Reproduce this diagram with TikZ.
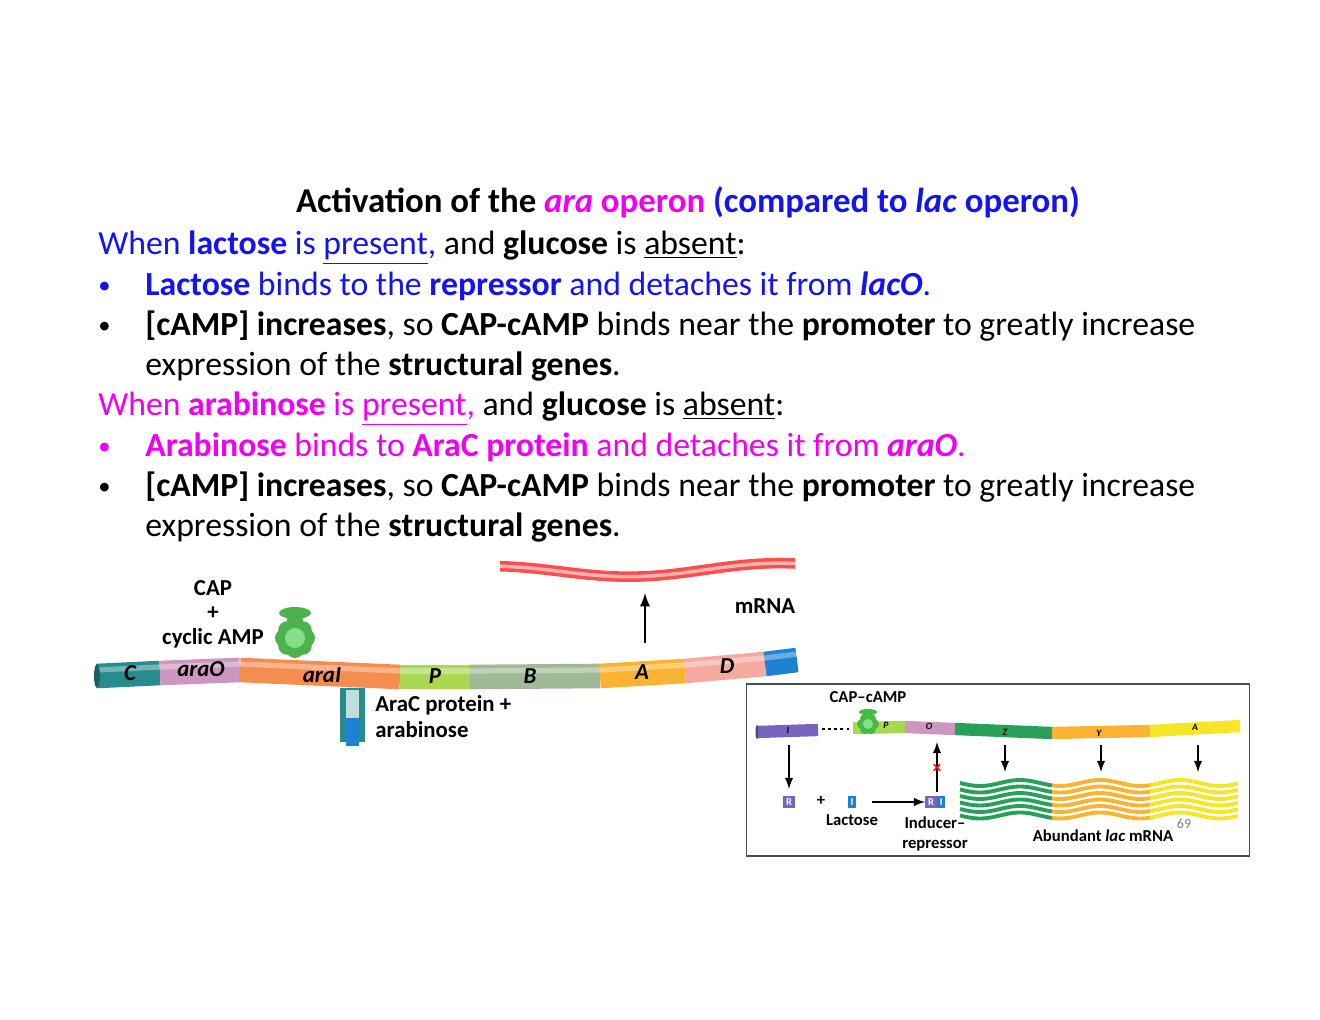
\documentclass[tikz,border=0pt]{standalone}
\usepackage{fontspec}
\setmainfont{Carlito}
\definecolor{txtblue}{RGB}{20,20,240}
\definecolor{txtmag}{RGB}{240,0,240}
\definecolor{cteal}{RGB}{40,140,140}
\definecolor{caraO}{RGB}{205,150,190}
\definecolor{caraI}{RGB}{245,140,80}
\definecolor{cP}{RGB}{170,215,80}
\definecolor{cB}{RGB}{160,185,150}
\definecolor{cA}{RGB}{250,180,50}
\definecolor{cD}{RGB}{245,170,160}
\definecolor{cblue}{RGB}{30,130,210}
\definecolor{cpurple}{RGB}{120,100,190}
\definecolor{cgreen}{RGB}{40,160,90}
\definecolor{cyel}{RGB}{245,230,40}
\tikzset{
  line/.style={anchor=base west, font=\fontsize{19.2}{22}\selectfont, inner sep=0pt},
  dot/.style={anchor=base west, font=\fontsize{14}{22}\selectfont, inner sep=0pt},
  seg/.style={line width=14pt},
  gene/.style={font=\bfseries\itshape\fontsize{13}{15}\selectfont, inner sep=0pt},
  lbl/.style={font=\bfseries\fontsize{13}{15}\selectfont, align=left, inner sep=0pt},
  slbl/.style={font=\bfseries\fontsize{9.5}{11}\selectfont, align=center, inner sep=0pt},
  tgene/.style={font=\bfseries\itshape\fontsize{5.5}{6}\selectfont, inner sep=0pt},
  arr/.style={-latex, line width=1.6pt},
  sarr/.style={-latex, line width=1.2pt},
}
\begin{document}
\begin{tikzpicture}[x=0.02cm, y=-0.02cm]
\useasboundingbox (0,0) rectangle (1320,1020);
% title and text
\node[anchor=base, inner sep=0pt, font=\bfseries\fontsize{19.8}{22}\selectfont] (title) at (688,213)
  {Activation of the {\color{txtmag}\textit{ara} operon} {\color{txtblue}(compared to \textit{lac} operon)}};
\node[line] (t1) at (98,255) {{\color{txtblue}When \textbf{lactose} is \underline{present},} and \textbf{glucose} is \underline{absent}:};
\node[dot] (d1) at (98,294) {\color{txtblue}•};
\node[line] (t2) at (145,296) {\color{txtblue}\textbf{Lactose} binds to the \textbf{repressor} and detaches it from \textbf{\textit{lacO}}.};
\node[dot] (d2) at (98,334) {•};
\node[line] (t3) at (145,336) {\textbf{[cAMP] increases}, so \textbf{CAP-cAMP} binds near the \textbf{promoter} to greatly increase};
\node[line] (t4) at (145,376) {expression of the \textbf{structural genes}.};
\node[line] (t5) at (98,416) {{\color{txtmag}When \textbf{arabinose} is \underline{present},} and \textbf{glucose} is \underline{absent}:};
\node[dot] (d3) at (98,455) {\color{txtmag}•};
\node[line] (t6) at (145,457) {\color{txtmag}\textbf{Arabinose} binds to \textbf{AraC protein} and detaches it from \textbf{\textit{araO}}.};
\node[dot] (d4) at (98,495) {•};
\node[line] (t7) at (145,497) {\textbf{[cAMP] increases}, so \textbf{CAP-cAMP} binds near the \textbf{promoter} to greatly increase};
\node[line] (t8) at (145,537) {expression of the \textbf{structural genes}.};
% ara operon
\foreach \xa/\ya/\xb/\yb/\c in {97/676/160/673/cteal, 160/673/240/670/caraO, 240/670/400/677/caraI,
  400/677/470/677/cP, 470/677/600/676/cB, 600/676/685/671/cA, 685/671/765/664/cD, 765/664/797/660/cblue}
  \draw[seg, \c] (\xa,\ya) -- (\xb,\yb);
\foreach \xa/\ya/\xb/\yb in {97/676/160/673, 160/673/240/670, 240/670/400/677, 400/677/470/677,
  470/677/600/676, 600/676/685/671, 685/671/765/664, 765/664/797/660}
  \draw[line width=3pt, white, opacity=0.35] (\xa,\ya-6) -- (\xb,\yb-6);
\fill[cteal!70!black] (97,676) ellipse (3 and 12);
\node[gene] (gC) at (130,673) {C};
\node[gene] (gO) at (201,669) {araO};
\node[gene] (gI) at (322,675) {araI};
\node[gene] (gP) at (435,676) {P};
\node[gene] (gB) at (530,676) {B};
\node[gene] (gA) at (642,672) {A};
\node[gene] (gD) at (727,666) {D};
% CAP
\node[lbl, align=center] (cap) at (213,614) {CAP\\[-1pt]+\\[-1pt]cyclic AMP};
\foreach \a in {0,45,...,315}
  \fill[green!40!gray] (295,638) ++(\a:11) circle (9);
\fill[green!55!gray!60] (295,638) circle (10);
\fill[green!40!gray] (295,613) ellipse (16 and 6);
\fill[green!40!gray] (295,620) ellipse (8 and 6);
% AraC
\fill[cteal] (340,688) rectangle (365,742);
\fill[cteal!30] (346,690) rectangle (359,735);
\fill[cblue] (346,718) rectangle (359,746);
\node[lbl, anchor=north west] (arac) at (375,695) {AraC protein +\\arabinose};
% mRNA
\draw[red!70, line width=6pt] plot[domain=500:795, samples=60] (\x, {572-3*(\x-500)/295 + 6*sin((\x-560)*1.25)});
\draw[white!70!red, line width=2pt] plot[domain=500:795, samples=60] (\x, {572-3*(\x-500)/295 + 6*sin((\x-560)*1.25)});
\node[lbl] (mrna) at (765,606) {mRNA};
\coordinate (aS) at (645,643);
\coordinate (aE) at (645,593);
\draw[arr] (aS) -- (aE);
% lac inset
\node[draw=black!70, line width=0.6pt, minimum width=10.08cm, minimum height=3.44cm, inner sep=0pt] (box) at (998,770) {};
\node[slbl] (capc) at (868,697) {CAP–cAMP};
\draw[line width=7pt, cpurple] (757,732) -- (818,730);
\fill[cpurple!70!black] (757,732) ellipse (1.5 and 7);
\draw[line width=1.5pt, dotted] (822,729) -- (850,729);
\foreach \xa/\ya/\xb/\yb/\c in {853/728/905/727/cP, 905/727/955/729/caraO, 955/729/1052/733/cgreen,
  1052/733/1150/731/cA, 1150/731/1240/726/cyel}
  \draw[line width=7pt, \c] (\xa,\ya) -- (\xb,\yb);
\foreach \a in {0,60,...,300}
  \fill[green!45!gray] (868,724) ++(\a:6) circle (5);
\fill[green!60!gray!60] (868,724) circle (5);
\fill[green!45!gray] (868,712) ellipse (9 and 3);
\node[tgene] (lI) at (788,730) {I};
\node[tgene] (lP) at (886,725) {P};
\node[tgene] (lO) at (929,726) {O};
\node[tgene] (lZ) at (1005,732) {Z};
\node[tgene] (lY) at (1099,733) {Y};
\node[tgene] (lA) at (1195,727) {A};
\node[fill=cpurple, text=white, font=\bfseries\fontsize{6}{6}\selectfont, inner sep=1.5pt] (rep) at (789,802) {R};
\node[slbl] (plus) at (821,801) {+};
\node[fill=cblue, text=white, font=\bfseries\fontsize{6}{6}\selectfont, inner sep=1.5pt] (ind) at (852,802) {I};
\node[fill=cpurple, text=white, font=\bfseries\fontsize{6}{6}\selectfont, inner sep=1.5pt, anchor=east] (rc) at (937,802) {R};
\node[fill=cblue, text=white, font=\bfseries\fontsize{6}{6}\selectfont, inner sep=1.5pt, anchor=west] (ic) at (937,802) {I};
\node[slbl] (lac) at (852,820) {Lactose};
\node[slbl] (indrep) at (935,834) {Inducer–\\repressor};
\node[slbl] (abund) at (1103,836) {Abundant \textit{lac} mRNA};
\node[font=\fontsize{8}{8}\selectfont, text=gray, inner sep=0pt] (pg) at (1184,824) {69};
\coordinate (iS) at (789,745);
\coordinate (iE) at (789,789);
\draw[sarr] (iS) -- (iE);
\draw[sarr] (ind.east) ++(16,0) -- (rc.west);
\coordinate (uS) at (937,792);
\coordinate (uE) at (937,742);
\draw[sarr] (uS) -- (uE);
\node[text=red, font=\bfseries\fontsize{10}{10}\selectfont, inner sep=0pt] (xx) at (937,769) {×};
\foreach \x in {1005,1101,1198}
  \draw[sarr] (\x,745) -- (\x,772);
\foreach \xa/\xb/\c in {960/1052/cgreen, 1052/1150/cA, 1150/1238/cyel}
  \foreach \k in {0,...,5}
    \draw[\c, line width=2.2pt] plot[domain=\xa:\xb, samples=25] (\x, {783+6.5*\k + 3*sin((\x-960)*4.5)});
\end{tikzpicture}
\end{document}
